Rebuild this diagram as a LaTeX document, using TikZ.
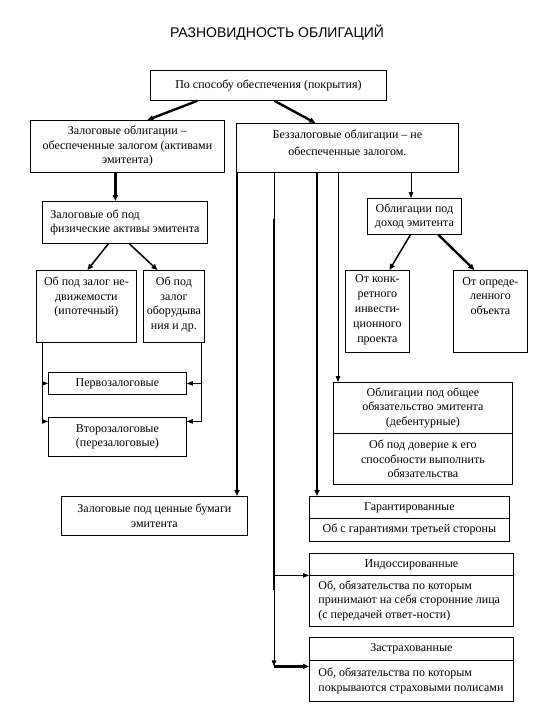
\documentclass[tikz,border=0pt]{standalone}
\usepackage{fontspec}
\setmainfont{Liberation Serif}
\newfontfamily\titlefont{Liberation Sans}
\usetikzlibrary{arrows.meta}
\tikzset{
 box/.style={draw, line width=0.8pt, inner sep=0pt, font=\fontsize{12}{14.5}\selectfont},
 thinarr/.style={line width=0.8pt, -{Triangle[length=6pt,width=4.5pt]}},
 midarr/.style={line width=1.5pt, -{Triangle[length=6pt,width=5pt]}},
 thickarr/.style={line width=2.4pt, -{Triangle[length=6pt,width=5pt]}},
 divline/.style={line width=0.8pt},
}
% name, x1, y1, x2, y2, inner pos, top pad, text
\newcommand\BX[8]{%
 \node[box, anchor=north west] (#1) at (#2,-#3)
 {\parbox[c][\dimexpr #5pt-#3pt\relax][#6]{\dimexpr #4pt-#2pt\relax}{\vspace*{#7pt}#8}};}
\newcommand\sect[2]{\vbox to #1pt{\vfil #2\par\vfil}}
\begin{document}
\begin{tikzpicture}[x=1pt,y=1pt]
\useasboundingbox (0,0) rectangle (540,-720);
\fill[white] (0,0) rectangle (540,-720);

\node[font=\titlefont\fontsize{14}{16}\selectfont] (title) at (277,-33) {РАЗНОВИДНОСТЬ ОБЛИГАЦИЙ};

\BX{top}{150}{70}{386}{100}{c}{0}{\centering По способу обеспечения (покрытия)\par}
\BX{zal}{30}{120}{224}{172}{c}{0}{\centering Залоговые облигации –\\обеспеченные залогом (активами\\эмитента)\par}
\BX{bez}{236}{123}{458}{172}{t}{7}{\centering Беззалоговые облигации – не\\[2.5pt]обеспеченные залогом.\par}
\BX{fiz}{42}{201}{207}{243}{c}{0}{\raggedright\leftskip=8pt Залоговые об под\\физические активы эмитента\par}
\BX{ned}{36}{270}{136}{342}{t}{7}{\centering Об под залог не-\\движемости\\(ипотечный)\par}
\BX{obo}{143}{270}{204}{342}{t}{7}{\centering Об под\\залог\\оборудыва\\ния и др.\par}
\BX{perv}{48}{372}{186}{394}{c}{0}{\centering Первозалоговые\par}
\BX{vtor}{48}{417}{186}{456}{c}{0}{\centering Второзалоговые\\(перезалоговые)\par}
\BX{doh}{367}{198}{461}{234}{c}{0}{\centering Облигации под\\доход эмитента\par}
\BX{konk}{345}{270}{409}{352}{t}{4}{\centering\baselineskip=15pt От конк-\\ретного\\инвести-\\ционного\\проекта\par}
\BX{opr}{453}{270}{527}{352}{t}{7}{\centering От опреде-\\ленного\\объекта\par}
\BX{deb}{333}{382}{512}{484}{t}{0}{\sect{51}{\centering Облигации под общее\\обязательство эмитента\\(дебентурные)}\nointerlineskip\sect{51}{\centering Об под доверие к его\\способности выполнить\\обязательства}}
\BX{cen}{61}{496}{247}{535}{c}{0}{\centering Залоговые под ценные бумаги\\эмитента\par}
\BX{gar}{309}{496}{509}{541}{t}{0}{\sect{22}{\centering Гарантированные}\nointerlineskip\sect{23}{\centering Об с гарантиями третьей стороны}}
\BX{ind}{309}{553}{513}{626}{t}{0}{\sect{22}{\centering Индоссированные}\nointerlineskip\sect{51}{\raggedright\leftskip=9pt Об, обязательства по которым\\принимают на себя сторонние лица\\(с передачей ответ-ности)}}
\BX{zas}{309}{637}{513}{701}{t}{0}{\sect{23}{\centering Застрахованные}\nointerlineskip\sect{41}{\raggedright\leftskip=9pt Об, обязательства по которым\\покрываются страховыми полисами}}

% dividers
\draw[divline] ([yshift=-51pt]deb.north west) -- ([yshift=-51pt]deb.north east);
\draw[divline] ([yshift=-22pt]gar.north west) -- ([yshift=-22pt]gar.north east);
\draw[divline] ([yshift=-22pt]ind.north west) -- ([yshift=-22pt]ind.north east);
\draw[divline] ([yshift=-23pt]zas.north west) -- ([yshift=-23pt]zas.north east);

% top level
\draw[thickarr] ([xshift=-71pt]top.south) -- ([xshift=20pt]zal.north);
\draw[thickarr] ([xshift=6pt]top.south) -- ([xshift=-32pt]bez.north);

% left branch
\coordinate (zf) at ([xshift=-12pt]zal.south);
\draw[thickarr] (zf) -- (zf |- fiz.north);
\draw[midarr] ([xshift=-16.5pt]fiz.south) -- ([xshift=1pt]ned.north);
\draw[midarr] ([xshift=4.5pt]fiz.south) -- ([xshift=-16.5pt]obo.north);
\coordinate (nl) at ([xshift=-44pt]ned.south);
\draw[thinarr] (nl) |- (perv.west);
\draw[thinarr] (nl) |- ([yshift=15.5pt]vtor.west);
\coordinate (orr) at ([xshift=27.5pt]obo.south);
\draw[thinarr] (orr) |- (perv.east);
\draw[thinarr] (orr) |- ([yshift=15.5pt]vtor.east);

% right branch
\coordinate (b1) at ([xshift=1pt]bez.south west);
\draw[thickarr] (b1) -- (b1 |- cen.north);
\coordinate (b2) at ([xshift=38pt]bez.south west);
\coordinate (zw) at ([yshift=3pt]zas.west);
\coordinate (iw) at ([yshift=14.5pt]ind.west);
\draw[thinarr] (b2) -- (b2 |- zw);
\draw[line width=2.4pt] ([yshift=-46pt]b2) -- ([yshift=-417pt]b2);
\draw[thinarr] (b2 |- iw) -- (iw);
\draw[thickarr] (b2 |- zw) -- (zw);
\coordinate (b3) at ([xshift=81pt]bez.south west);
\draw[thickarr] (b3) -- (b3 |- gar.north);
\coordinate (b4) at ([xshift=102pt]bez.south west);
\draw[thinarr] (b4) -- (b4 |- deb.north);
\coordinate (b5) at ([xshift=175pt]bez.south west);
\draw[thinarr] (b5) -- (b5 |- doh.north);
\draw[midarr] ([xshift=-4pt]doh.south) -- ([xshift=12pt]konk.north);
\draw[thickarr] ([xshift=24pt]doh.south) -- ([xshift=-16pt]opr.north);
\end{tikzpicture}
\end{document}
